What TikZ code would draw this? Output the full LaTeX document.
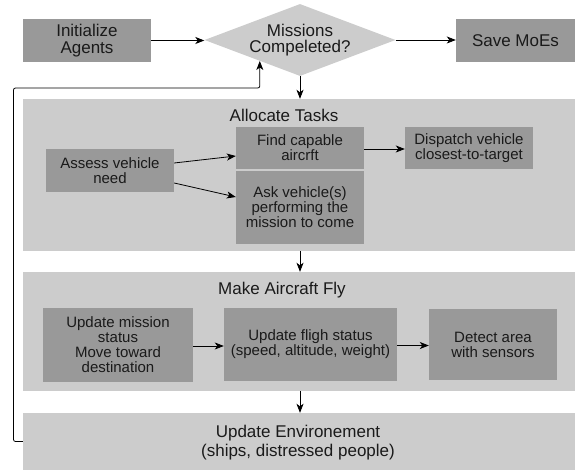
\documentclass[tikz,border=0pt]{standalone}
\usepackage{fontspec}
\setmainfont{Liberation Sans}
\usetikzlibrary{shapes.geometric,arrows.meta,calc}
\definecolor{panelgray}{HTML}{CCCCCC}
\definecolor{boxgray}{HTML}{999999}
\definecolor{txt}{HTML}{1A1A1A}
\tikzset{
  topbox/.style={fill=boxgray, draw=none, inner sep=0pt, align=center, text=txt,
    font=\fontsize{17}{16.5}\selectfont},
  inbox/.style={fill=boxgray, draw=none, inner sep=0pt, align=center, text=txt,
    font=\fontsize{15}{15}\selectfont},
  panel/.style={fill=panelgray, draw=none, inner sep=0pt},
  ptitle/.style={inner sep=0pt, align=center, text=txt, font=\fontsize{17}{19}\selectfont},
  conn/.style={draw=black, line width=0.8pt, -{Stealth[length=9pt,width=7pt,inset=2.5pt]}},
}
\begin{document}
\begin{tikzpicture}[x=1pt,y=-1pt]
\useasboundingbox (0,0) rectangle (575,470);
% panels
\node[panel, minimum width=552pt, minimum height=152pt] (alloc) at (299,175) {};
\node[panel, minimum width=552pt, minimum height=119pt] (make) at (299,331.5) {};
\node[panel, minimum width=552pt, minimum height=57pt] (env) at (299,441.5) {};
\node[ptitle] (alloct) at (284,115) {Allocate Tasks};
\node[ptitle] (maket) at (282,290) {Make Aircraft Fly};
\node[ptitle] (envt) at (298,443) {Update Environement\\(ships, distressed people)};
% top row
\node[topbox, minimum width=128pt, minimum height=43pt] (init) at (87,40.5) {Initialize\\Agents};
\node[diamond, aspect=2.65, fill=panelgray, draw=none, inner sep=0pt, minimum width=191pt, minimum height=72pt,
  align=center, text=txt, font=\fontsize{17}{16.5}\selectfont] (dia) at (300,40) {};
\node[inner sep=0pt, align=center, text=txt, font=\fontsize{17}{16.5}\selectfont] (diat) at (300,40) {Missions\\Compeleted?};
\node[topbox, minimum width=119pt, minimum height=43pt] (save) at (515.5,40.5) {Save MoEs};
% allocate tasks
\node[inbox, minimum width=128pt, minimum height=43pt] (assess) at (110,170.5) {Assess vehicle\\need};
\node[inbox, minimum width=128pt, minimum height=42pt] (find) at (300,148) {Find capable\\aircrft};
\node[inbox, minimum width=128pt, minimum height=73pt] (ask) at (300,207.5) {Ask vehicle(s)\\performing the\\mission to come};
\node[inbox, minimum width=128pt, minimum height=42pt] (dispatch) at (469,148) {Dispatch vehicle\\closest-to-target};
% make aircraft fly
\node[inbox, minimum width=150pt, minimum height=74pt] (mission) at (118,345) {Update mission\\status\\Move toward\\destination};
\node[inbox, minimum width=173pt, minimum height=73pt] (flight) at (310.5,344.5) {Update fligh status\\(speed, altitude, weight)};
\node[inbox, minimum width=128pt, minimum height=71pt] (detect) at (493,344.5) {Detect area\\with sensors};
% connectors
\draw[conn] (init.east) -- (init.east -| dia.west);
\draw[conn] (dia.east) -- (dia.east -| save.west);
\draw[conn] (dia.south) -- (dia.south |- alloc.north);
\draw[conn] (alloc.south -| dia.south) -- (make.north -| dia.south);
\draw[conn] (make.south -| dia.south) -- (env.north -| dia.south);
\draw[conn] ([yshift=7.5pt]assess.east) -- ([yshift=-8pt]find.west);
\draw[conn] ([yshift=-12.5pt]assess.east) -- ([yshift=10.5pt]ask.west);
\draw[conn] ([yshift=-1pt]find.east) -- ([yshift=-1pt]find.east -| dispatch.west);
\draw[conn] ([yshift=-1pt]mission.east) -- ([yshift=-1pt]mission.east -| flight.west);
\draw[conn] ([yshift=-1pt]flight.east) -- ([yshift=-1pt]flight.east -| detect.west);
\coordinate (fb) at (13.5,88);
\coordinate (fbend) at ($(dia.west)!0.58!(dia.south)$);
\draw[conn, rounded corners=2pt] (env.west) -| (fb) -| (fbend);
\end{tikzpicture}
\end{document}
